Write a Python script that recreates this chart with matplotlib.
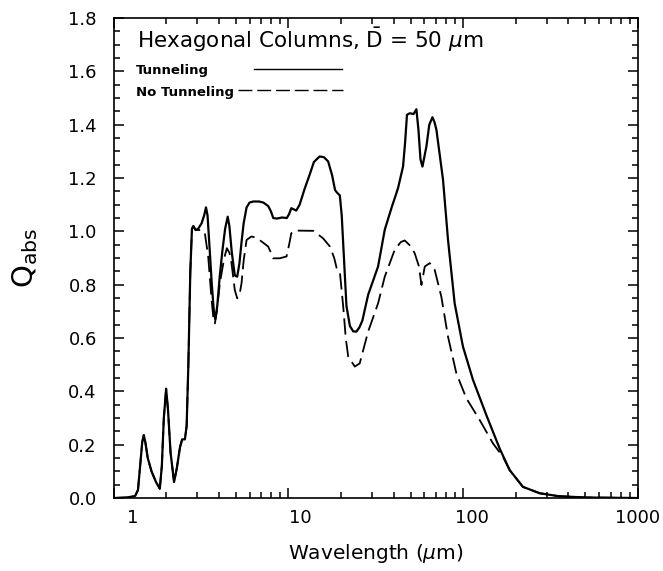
import matplotlib
matplotlib.use("Agg")
import matplotlib.pyplot as plt
from matplotlib.ticker import LogLocator, MultipleLocator, FixedFormatter, NullFormatter
from matplotlib.transforms import ScaledTranslation

# wavelength (um) and Q_abs
# short wavelengths: both curves coincide
lam_common = [1.0, 1.2, 1.33, 1.38, 1.42, 1.46, 1.49, 1.52, 1.57, 1.65, 1.75, 1.84,
              1.89, 1.94, 2.0, 2.05, 2.12, 2.22, 2.3, 2.4, 2.47, 2.56, 2.62, 2.68,
              2.75, 2.81, 2.86, 2.95]
q_common = [0.0, 0.002, 0.008, 0.03, 0.12, 0.21, 0.236, 0.21, 0.15, 0.10, 0.06, 0.035,
            0.12, 0.30, 0.41, 0.33, 0.17, 0.06, 0.11, 0.19, 0.22, 0.22, 0.27, 0.5,
            0.85, 1.01, 1.02, 1.005]

# tunneling
lam_tun = [3.05, 3.19, 3.3, 3.38, 3.45, 3.55, 3.65, 3.75, 3.82, 3.92, 4.05, 4.2, 4.35,
           4.5, 4.6, 4.75, 4.94, 5.1, 5.25, 5.4, 5.55, 5.77, 6.0, 6.3, 6.8, 7.2, 7.67,
           7.95, 8.2, 8.6, 9.2, 9.8, 10.1, 10.4, 11.1, 11.6, 12.4, 13.2, 14.0, 15.1,
           16.0, 16.9, 17.8, 18.5, 19.0, 19.7, 20.2, 20.8, 21.5, 22.5, 23.5, 24.5,
           25.5, 26.5, 28.6, 32.6, 35.6, 39.0, 42.4, 45.3, 46.5, 47.7, 49.5, 52.0,
           54.0, 55.5, 57.0, 58.5, 60.0, 61.6, 64.0, 66.7, 68.5, 70.3, 73.0, 76.7,
           81.9, 89.4, 99.7, 113.8, 135.7, 161.6]
q_tun = [1.01, 1.03, 1.06, 1.09, 1.06, 0.93, 0.80, 0.70, 0.67, 0.72, 0.83, 0.93, 1.01,
         1.055, 1.02, 0.92, 0.835, 0.83, 0.88, 0.96, 1.03, 1.09, 1.108, 1.112, 1.112,
         1.108, 1.095, 1.075, 1.05, 1.048, 1.052, 1.05, 1.065, 1.087, 1.078, 1.10,
         1.16, 1.21, 1.26, 1.281, 1.278, 1.262, 1.21, 1.155, 1.145, 1.135, 1.06, 0.90,
         0.72, 0.645, 0.625, 0.624, 0.64, 0.665, 0.762, 0.868, 1.006, 1.09, 1.162,
         1.243, 1.33, 1.437, 1.443, 1.44, 1.458, 1.38, 1.27, 1.243, 1.28, 1.318, 1.40,
         1.428, 1.41, 1.381, 1.30, 1.193, 0.968, 0.73, 0.568, 0.443, 0.311, 0.186]

# no tunneling
lam_notun = [3.05, 3.19, 3.33, 3.48, 3.64, 3.72, 3.80, 3.9, 4.05, 4.15, 4.3, 4.45, 4.6,
             4.73, 4.94, 5.10, 5.25, 5.40, 5.55, 5.77, 6.16, 6.6, 7.03, 7.67, 7.95,
             8.19, 8.94, 9.77, 10.1, 10.4, 10.9, 13.9, 15.8, 17.3, 18.3, 18.9, 19.7,
             20.6, 21.3, 22.0, 24.0, 25.6, 28.6, 32.6, 35.6, 40.6, 44.0, 46.3, 50.0,
             52.8, 55.9, 57.7, 60.3, 64.4, 68.7, 75.0, 81.9, 91.4, 104.3, 124.2,
             148.0, 168.8]
q_notun = [1.005, 1.005, 0.993, 0.906, 0.743, 0.68, 0.655, 0.70, 0.80, 0.843, 0.90,
           0.937, 0.92, 0.881, 0.78, 0.749, 0.76, 0.806, 0.89, 0.968, 0.981, 0.975,
           0.962, 0.943, 0.92, 0.899, 0.899, 0.906, 0.95, 0.993, 1.003, 1.002, 0.974,
           0.943, 0.90, 0.862, 0.849, 0.718, 0.60, 0.530, 0.493, 0.505, 0.624, 0.730,
           0.830, 0.931, 0.96, 0.966, 0.945, 0.918, 0.868, 0.799, 0.868, 0.881, 0.856,
           0.755, 0.605, 0.468, 0.374, 0.293, 0.205, 0.155]

# long wavelength tail, curves coincide again
lam_tail = [184.4, 219.6, 273.7, 350.0, 500.0, 1000.0]
q_tail = [0.105, 0.042, 0.018, 0.007, 0.002, 0.0]

xticks = [1, 10, 100, 1000]
xtick_labels = ["1", "10", "100", "1000"]


def main():
    fig = plt.figure(figsize=(6.63, 5.71), dpi=100)
    ax = fig.add_axes([0.1712, 0.1278, 0.7911, 0.8406])

    ax.plot(lam_common + lam_tun + lam_tail, q_common + q_tun + q_tail,
            color="black", lw=1.6)
    ax.plot(lam_common + lam_notun + lam_tail, q_common + q_notun + q_tail,
            color="black", lw=1.3, dashes=(9, 3.5))

    ax.set_xscale("log")
    ax.set_xlim(1, 1000)
    ax.set_ylim(0, 1.8)
    ax.set_xticks(xticks)
    ax.xaxis.set_major_formatter(FixedFormatter(xtick_labels))
    ax.xaxis.set_minor_locator(LogLocator(base=10, subs=range(2, 10)))
    ax.xaxis.set_minor_formatter(NullFormatter())
    ax.yaxis.set_major_locator(MultipleLocator(0.2))
    ax.yaxis.set_minor_locator(MultipleLocator(0.05))
    ax.yaxis.set_major_formatter(plt.FormatStrFormatter("%.1f"))

    ax.tick_params(which="both", direction="in", top=True, right=True, width=1.1)
    ax.tick_params(which="major", length=7)
    ax.tick_params(which="minor", length=4)
    ax.tick_params(axis="y", labelsize=13, pad=12)
    ax.tick_params(axis="x", labelsize=13, pad=8)
    for s in ax.spines.values():
        s.set_linewidth(1.2)

    # the original tick numbers sit a little right of their ticks
    shifts = [14, 8.5, 6, 0]
    for lab, dx in zip(ax.get_xticklabels(), shifts):
        lab.set_transform(lab.get_transform() + ScaledTranslation(dx / 72, 0, fig.dpi_scale_trans))

    ax.set_xlabel(r"Wavelength ($\mu$m)", fontsize=14.5, labelpad=11)
    ax.set_ylabel(r"Q$_{\rm abs}$", fontsize=21, labelpad=20)

    # legend block
    ax.text(0.045, 0.9375, r"Hexagonal Columns, $\bar{\rm D}$ = 50 $\mu$m",
            transform=ax.transAxes, fontsize=15.5, va="baseline")
    ax.text(0.043, 0.883, "Tunneling", transform=ax.transAxes, fontsize=9.5,
            fontweight="bold", va="baseline")
    ax.text(0.043, 0.8375, "No Tunneling", transform=ax.transAxes, fontsize=9.5,
            fontweight="bold", va="baseline")
    ax.plot([0.267, 0.435], [0.8937, 0.8937], transform=ax.transAxes,
            color="black", lw=1.0)
    ax.plot([0.238, 0.438], [0.850, 0.850], transform=ax.transAxes,
            color="black", lw=1.0, dashes=(10, 3.5))

    plt.savefig("out.png", dpi=100)


main()
